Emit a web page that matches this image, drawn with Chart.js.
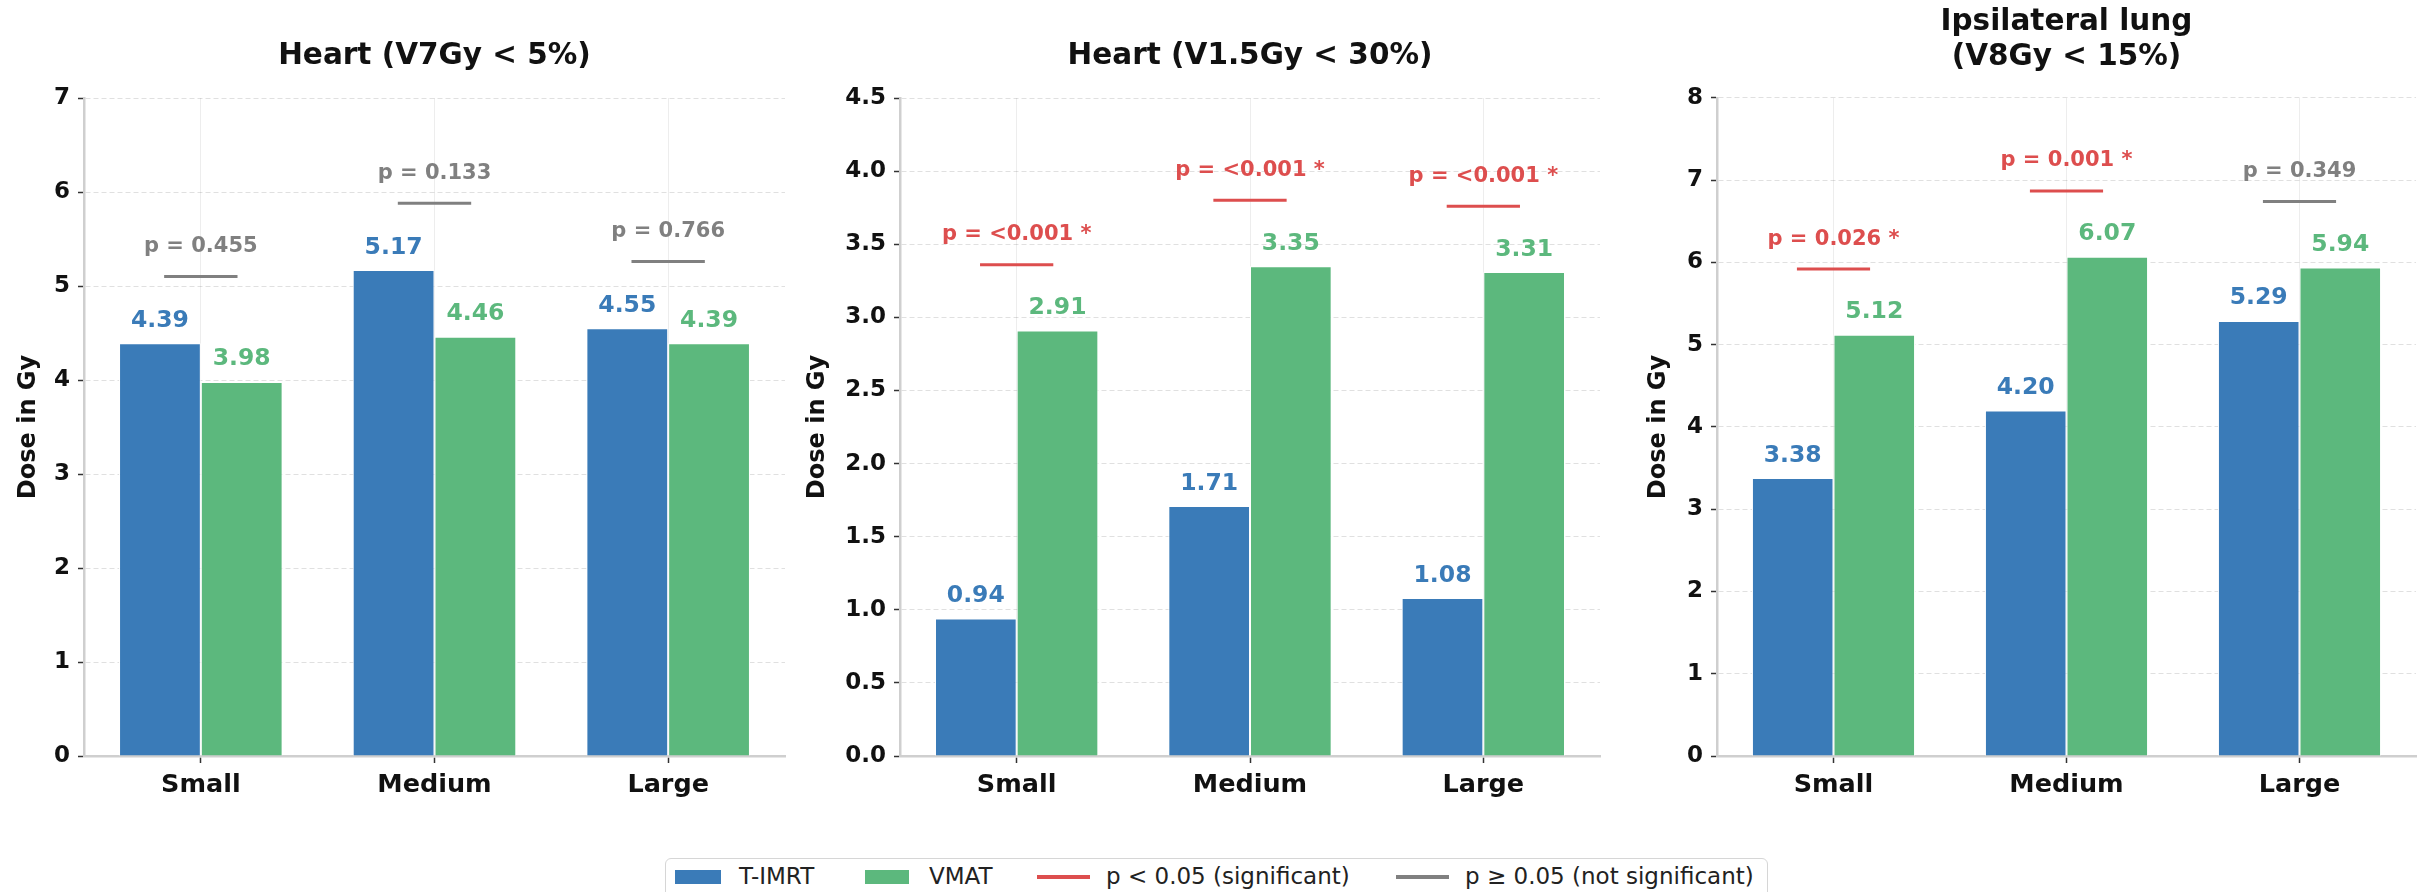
<!DOCTYPE html>
<html><head><meta charset="utf-8">
<script src="https://cdn.jsdelivr.net/npm/chart.js@4"></script>
<style>
html,body{margin:0;padding:0;background:#fff;width:2428px;height:892px;overflow:hidden;font-family:'DejaVu Sans',sans-serif;}
.panel{position:absolute;top:0;height:850px;}
.panel canvas{display:block;}
#legend{position:absolute;left:665px;top:858px;width:1101px;height:50px;border:1.5px solid #d6d6d6;border-radius:6px;background:#fff;}
.lg{position:absolute;}
.lt{position:absolute;top:861px;line-height:30px;font-size:23px;color:#222;white-space:nowrap;}
</style></head><body>
<div class="panel" style="left:0;width:800px"><canvas id="c1"></canvas></div>
<div class="panel" style="left:800px;width:815px"><canvas id="c2"></canvas></div>
<div class="panel" style="left:1615px;width:813px"><canvas id="c3"></canvas></div>
<div id="legend"></div>
<div class="lg" style="left:675px;top:870px;width:46px;height:14px;background:#3A7BB8"></div>
<div class="lt" style="left:739px">T-IMRT</div>
<div class="lg" style="left:865px;top:870px;width:44px;height:14px;background:#5CB87D"></div>
<div class="lt" style="left:929px">VMAT</div>
<div class="lg" style="left:1037px;top:875px;width:53px;height:4px;background:#DD4E4E"></div>
<div class="lt" style="left:1106px">p &lt; 0.05 (significant)</div>
<div class="lg" style="left:1396px;top:875px;width:53px;height:4px;background:#808080"></div>
<div class="lt" style="left:1465px">p ≥ 0.05 (not significant)</div>
<script>
// ---- data ----
const categories = ['Small', 'Medium', 'Large'];
const seriesNames = ['T-IMRT', 'VMAT'];

const titleV7 = ['Heart (V7Gy < 5%)'];
const timrtV7 = [4.39, 5.17, 4.55];
const vmatV7 = [3.98, 4.46, 4.39];
const pV7 = ['0.455', '0.133', '0.766'];
const pLineV7 = [5.10, 5.88, 5.26];
const yMaxV7 = 7, yStepV7 = 1;

const titleV15 = ['Heart (V1.5Gy < 30%)'];
const timrtV15 = [0.94, 1.71, 1.08];
const vmatV15 = [2.91, 3.35, 3.31];
const pV15 = ['<0.001', '<0.001', '<0.001'];
const pLineV15 = [3.36, 3.80, 3.76];
const yMaxV15 = 4.5, yStepV15 = 0.5;

const titleLung = ['Ipsilateral lung', '(V8Gy < 15%)'];
const timrtLung = [3.38, 4.20, 5.29];
const vmatLung = [5.12, 6.07, 5.94];
const pLung = ['0.026', '0.001', '0.349'];
const pLineLung = [5.92, 6.87, 6.74];
const yMaxLung = 8, yStepLung = 1;

// ---- style ----
const BLUE = '#3A7BB8', GREEN = '#5CB87D', RED = '#DD4E4E', GRAY = '#808080';
const FONT = "'DejaVu Sans'";

const annot = {
  id: 'annot',
  afterDatasetsDraw(chart, args, opts) {
    const ctx = chart.ctx;
    const xs = chart.scales.x, ys = chart.scales.y;
    ctx.save();
    ctx.textAlign = 'center';
    ctx.textBaseline = 'middle';
    chart.data.datasets.forEach((ds, di) => {
      const meta = chart.getDatasetMeta(di);
      ctx.fillStyle = ds.backgroundColor;
      ctx.font = 'bold 23.5px ' + FONT;
      meta.data.forEach((bar, i) => {
        ctx.fillText(ds.data[i].toFixed(2), bar.x, bar.y - 22.5);
      });
    });
    const catW = xs.width / chart.data.labels.length;
    opts.pValues.forEach((p, i) => {
      const cx = xs.getPixelForValue(i);
      const ly = ys.getPixelForValue(opts.pLines[i]);
      const sig = parseFloat(p.replace('<', '')) < 0.05;
      const col = sig ? RED : GRAY;
      ctx.strokeStyle = col;
      ctx.lineWidth = 3;
      ctx.beginPath();
      ctx.moveTo(cx - 0.157 * catW, ly);
      ctx.lineTo(cx + 0.157 * catW, ly);
      ctx.stroke();
      ctx.fillStyle = col;
      ctx.font = 'bold 21px ' + FONT;
      ctx.fillText('p = ' + p + (sig ? ' *' : ''), cx, ly - 30);
    });
    ctx.restore();
  }
};

function makeChart(id, cfg) {
  return new Chart(document.getElementById(id), {
    type: 'bar',
    data: {
      labels: categories,
      datasets: [
        {label: seriesNames[0], data: cfg.a, backgroundColor: BLUE, borderColor: '#ffffff', borderWidth: 1,
         categoryPercentage: 0.7, barPercentage: 1.0},
        {label: seriesNames[1], data: cfg.b, backgroundColor: GREEN, borderColor: '#ffffff', borderWidth: 1,
         categoryPercentage: 0.7, barPercentage: 1.0}
      ]
    },
    options: {
      responsive: true,
      maintainAspectRatio: false,
      animation: false,
      devicePixelRatio: 1,
      layout: {padding: {left: 0, right: cfg.padR, top: 0, bottom: 0}},
      plugins: {
        legend: {display: false},
        tooltip: {enabled: false},
        title: {
          display: true, text: cfg.title, color: '#111', fullSize: false,
          font: {family: FONT, size: 29.5, weight: 'bold', lineHeight: cfg.tLH},
          padding: {top: cfg.tPadT, bottom: cfg.tPadB}
        },
        annot: {pValues: cfg.p, pLines: cfg.pl}
      },
      scales: {
        x: {
          offset: true,
          afterFit: s => { s.height = 94; },
          grid: {display: true, offset: false, color: 'rgba(0,0,0,0.07)', lineWidth: 1,
                 drawTicks: true, tickLength: 7, tickColor: '#333', tickWidth: 1.5},
          border: {display: true, color: '#cfcfcf', width: 2.5},
          ticks: {color: '#111', font: {family: FONT, size: 25.5, weight: 'bold'}, padding: 7, maxRotation: 0}
        },
        y: {
          min: 0, max: cfg.yMax,
          afterFit: s => { s.width = cfg.yW; },
          grid: {color: 'rgba(0,0,0,0.12)', lineWidth: 1, drawTicks: true, tickLength: 6,
                 tickColor: '#333', tickWidth: 1.5, tickBorderDash: []},
          border: {display: true, color: '#cfcfcf', width: 2.5, dash: [5, 3]},
          ticks: {stepSize: cfg.yStep, color: '#111', padding: 8,
                  font: {family: FONT, size: 23, weight: 'bold'},
                  callback: v => cfg.dec ? Number(v).toFixed(1) : String(v)},
          title: {display: true, text: 'Dose in Gy', color: '#111',
                  font: {family: FONT, size: 24, weight: 'bold', lineHeight: 1.2},
                  padding: {top: cfg.yTitlePad, bottom: 0}}
        }
      }
    },
    plugins: [annot]
  });
}

makeChart('c1', {a: timrtV7, b: vmatV7, p: pV7, pl: pLineV7, yMax: yMaxV7, yStep: yStepV7, dec: false,
  title: titleV7, tLH: 1.2, tPadT: 38.3, tPadB: 24.3, yW: 84, padR: 15, yTitlePad: 14.5});
makeChart('c2', {a: timrtV15, b: vmatV15, p: pV15, pl: pLineV15, yMax: yMaxV15, yStep: yStepV15, dec: true,
  title: titleV15, tLH: 1.2, tPadT: 38.3, tPadB: 24.3, yW: 100, padR: 15, yTitlePad: 3.6});
makeChart('c3', {a: timrtLung, b: vmatLung, p: pLung, pl: pLineLung, yMax: yMaxLung, yStep: yStepLung, dec: false,
  title: titleLung, tLH: 1.186, tPadT: 4.5, tPadB: 23.5, yW: 102, padR: 12, yTitlePad: 29.6});
</script>
</body></html>
